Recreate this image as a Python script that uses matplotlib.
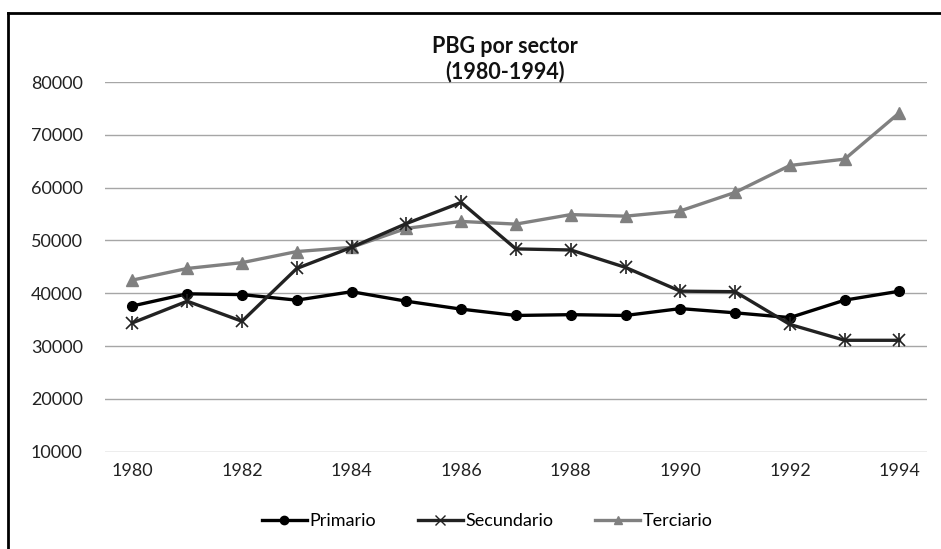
import matplotlib.pyplot as plt
from matplotlib.lines import Line2D

years = list(range(1980, 1995))
primario = [37600, 39900, 39750, 38700, 40300, 38500, 37000, 35800,
            35950, 35800, 37100, 36300, 35400, 38700, 40400]
secundario = [34400, 38500, 34700, 44700, 48700, 53200, 57200, 48400,
              48200, 44900, 40400, 40300, 34100, 31100, 31100]
terciario = [42500, 44700, 45800, 47900, 48700, 52300, 53600, 53100,
             54900, 54600, 55600, 59100, 64200, 65400, 74200]
yticks = [10000, 20000, 30000, 40000, 50000, 60000, 70000, 80000]
xticks = list(range(1980, 1995, 2))

plt.rcParams['font.family'] = ['Lato', 'DejaVu Sans']

fig = plt.figure(figsize=(9.41, 5.49), dpi=100)
ax = fig.add_axes([0.1116, 0.1767, 0.8734, 0.6739])

ax.plot(years, primario, color='black', lw=2.4, marker='o', ms=7,
        label='Primario', zorder=3)
ax.plot(years, secundario, color='#222222', lw=2.4, marker='x', ms=9,
        mew=1.2, label='Secundario', zorder=4)
ax.plot(years, secundario, color='#222222', lw=0, marker='|', ms=10,
        mew=1.2, zorder=4)
ax.plot(years, terciario, color='#808080', lw=2.4, marker='^', ms=9,
        label='Terciario', zorder=2)

ax.set_xlim(1979.5, 1994.5)
ax.set_ylim(9950, 80000)
ax.set_yticks(yticks)
ax.set_xticks(xticks)
ax.tick_params(length=0, labelsize=13, colors='#222222', pad=8)
ax.tick_params(axis='y', pad=16)
ax.grid(axis='y', color='#a6a6a6', lw=1)
ax.set_axisbelow(True)
for s in ax.spines.values():
    s.set_visible(False)

fig.text(0.537, 0.892, 'PBG por sector\n(1980-1994)', ha='center', va='center',
         fontsize=15.5, fontweight='bold', linespacing=1.25, color='#111111')

handles = [
    Line2D([], [], color='black', lw=2.4, marker='o', ms=6),
    Line2D([], [], color='#222222', lw=2.4, marker='x', ms=7, mew=1),
    Line2D([], [], color='#808080', lw=2.4, marker='^', ms=6),
]
fig.legend(handles, ['Primario', 'Secundario', 'Terciario'], loc='center',
           bbox_to_anchor=(0.518, 0.051), ncol=3, frameon=False,
           fontsize=13, handlelength=2.5, handletextpad=0.15, columnspacing=2.3)

fig.add_artist(Line2D([0.009, 0.009], [0, 0.977], color='black', lw=2,
                      transform=fig.transFigure))
fig.add_artist(Line2D([0.009, 1.0], [0.977, 0.977], color='black', lw=2,
                      transform=fig.transFigure))

fig.savefig('out.png', dpi=100)
